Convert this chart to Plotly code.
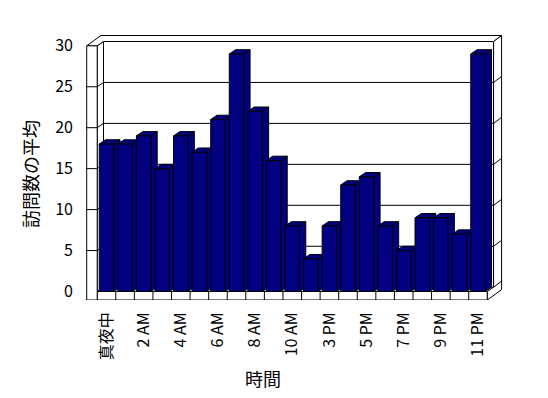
import plotly.graph_objects as go

# ---- data ----
hours = ["真夜中", "1 AM", "2 AM", "3 AM", "4 AM", "5 AM", "6 AM", "7 AM", "8 AM",
         "9 AM", "10 AM", "11 AM", "3 PM", "4 PM", "5 PM", "6 PM", "7 PM", "8 PM",
         "9 PM", "10 PM", "11 PM"]
visits = [18, 18, 19, 15, 19, 17, 21, 29, 22, 16, 8, 4, 8, 13, 14, 8, 5, 9, 9, 7, 29]
y_ticks = [0, 5, 10, 15, 20, 25, 30]
x_title = "時間"
y_title = "訪問数の平均"

# ---- layout geometry (pixels, page body has an 8px margin) ----
OFF = 8
W, H = 548 - OFF, 398 - OFF
L, R, T, B = 80 - OFF, 510 - OFF, 30 - OFF, 300 - OFF
X_C0, X_STEP = 106.5 - OFF, 18.575   # pixel of category 0, pixels per category
Y_0, Y_STEP = 291.5 - OFF, 8.19      # pixel of value 0, pixels per unit

xr = [(L - X_C0) / X_STEP, (R - X_C0) / X_STEP]
yr = [(Y_0 - B) / Y_STEP, (Y_0 - T) / Y_STEP]


def ux(p):
    return p / X_STEP


def uy(p):
    return p / Y_STEP


DX, DY = ux(6.3), uy(4.3)      # depth (bars / back wall)
TX, TY = ux(8.0), uy(6.0)      # back wall thickness
WALL = ux(10.5)                # left wall thickness
FLOOR = uy(8.5)                # floor thickness
BW = 0.78
NAVY = "#000080"

n = len(visits)
idx = list(range(n))
xl = -0.5
xrr = n - 0.5
ymax = y_ticks[-1]


def path(pts):
    return "M " + " L ".join(f"{x},{y}" for x, y in pts) + " Z"


shapes = []


def poly(pts, fill="white"):
    shapes.append(dict(type="path", path=path(pts), xref="x", yref="y",
                       fillcolor=fill, line=dict(color="black", width=1),
                       layer="below"))


def seg(x0, y0, x1, y1):
    shapes.append(dict(type="line", x0=x0, y0=y0, x1=x1, y1=y1, xref="x", yref="y",
                       line=dict(color="black", width=1), layer="below"))


# back wall front face
poly([(xl + DX, DY), (xl + DX, ymax + DY), (xrr + DX, ymax + DY), (xrr + DX, DY)])
for v in y_ticks[1:-1]:
    seg(xl + DX, v + DY, xrr + DX, v + DY)
# left wall inner face
poly([(xl, 0), (xl, ymax), (xl + DX, ymax + DY), (xl + DX, DY)])
for v in y_ticks[1:-1]:
    seg(xl, v, xl + DX, v + DY)
# top faces of walls
poly([(xl - WALL, ymax), (xl, ymax), (xl + DX, ymax + DY), (xrr + DX, ymax + DY),
      (xrr + DX + TX, ymax + DY + TY), (xl - WALL + DX + TX, ymax + DY + TY)])
# right end face (back wall + floor)
poly([(xrr + DX, ymax + DY), (xrr + DX + TX, ymax + DY + TY),
      (xrr + DX + TX, -FLOOR + DY + TY), (xrr, -FLOOR), (xrr, 0), (xrr + DX, DY)])
for v in y_ticks[:-1]:
    seg(xrr + DX, v + DY, xrr + DX + TX, v + DY + TY)
# floor front face
poly([(xl, -FLOOR), (xl, 0), (xrr, 0), (xrr, -FLOOR)])
for i in range(n - 1):
    seg(i + 0.5, -FLOOR, i + 0.5, 0)
# left wall front face
poly([(xl - WALL, -FLOOR), (xl - WALL, ymax), (xl, ymax), (xl, -FLOOR)])
for v in y_ticks[1:-1]:
    seg(xl - WALL, v, xl, v)

# bar side and top faces
for i, v in zip(idx, visits):
    x0, x1 = i - BW / 2, i + BW / 2
    poly([(x1, 0), (x1, v), (x1 + DX, v + DY), (x1 + DX, DY)], NAVY)
    poly([(x0, v), (x1, v), (x1 + DX, v + DY), (x0 + DX, v + DY)], NAVY)

fig = go.Figure()
fig.add_trace(go.Bar(x=idx, y=visits, width=BW, marker=dict(color=NAVY,
                     line=dict(color="black", width=1)), hoverinfo="skip"))

FONT = "Noto Sans CJK JP, Liberation Sans, sans-serif"
fig.update_layout(
    width=W, height=H,
    margin=dict(l=L, r=W - R, t=T, b=H - B),
    paper_bgcolor="white", plot_bgcolor="white",
    showlegend=False,
    shapes=shapes,
    font=dict(family=FONT, size=16, color="black"),
    xaxis=dict(range=xr, tickvals=idx[::2], ticktext=hours[::2], tickangle=-90,
               showgrid=False, zeroline=False, showline=False, ticks="",
               ticklabelstandoff=8, tickfont=dict(size=16)),
    yaxis=dict(range=yr, tickvals=y_ticks, showgrid=False, zeroline=False,
               showline=False, ticks="", ticklabelstandoff=6,
               tickfont=dict(size=16)),
    annotations=[
        dict(text=x_title, x=(263 - OFF - L) / (R - L), y=(B - (378 - OFF)) / (B - T),
             xref="paper", yref="paper", xanchor="center", yanchor="middle",
             showarrow=False, font=dict(size=18)),
        dict(text=y_title, x=(30 - OFF - L) / (R - L), y=(B - (174 - OFF)) / (B - T),
             xref="paper", yref="paper", xanchor="center", yanchor="middle",
             textangle=-90, showarrow=False, font=dict(size=18)),
    ],
)

fig.write_html("out.html")
